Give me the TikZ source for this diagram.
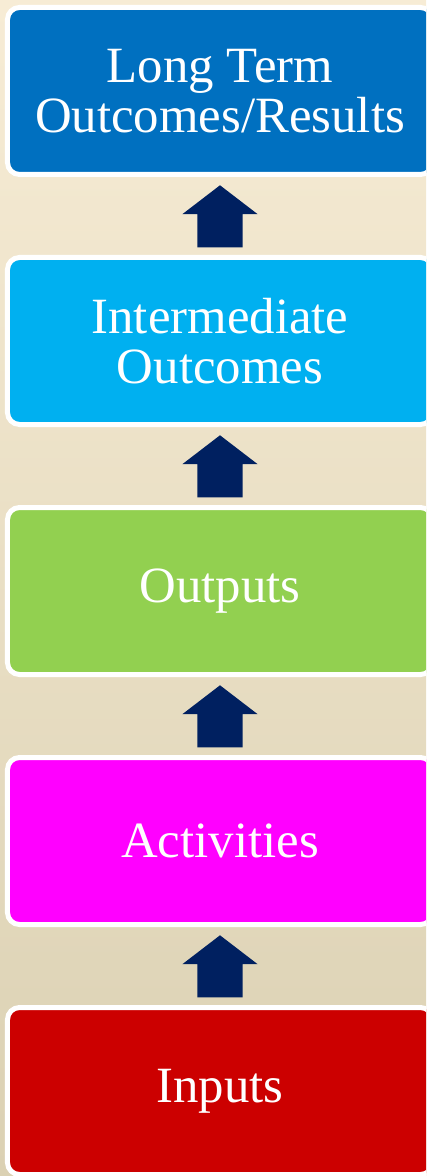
\documentclass[tikz,border=0pt]{standalone}
\usepackage{fontspec}
\setmainfont{Liberation Serif}
\usetikzlibrary{positioning,calc,shapes.arrows}

\definecolor{bgtop}{HTML}{F7ECD5}
\definecolor{bgbottom}{HTML}{DBD1B3}
\definecolor{longc}{HTML}{0070C0}
\definecolor{interc}{HTML}{00B0F0}
\definecolor{outputc}{HTML}{92D050}
\definecolor{activc}{HTML}{FF00FF}
\definecolor{inputc}{HTML}{CC0000}
\definecolor{arrowc}{HTML}{002060}

\tikzset{
	stage/.style={rectangle, rounded corners=12bp, draw=white, line width=5bp,
		outer sep=0pt, minimum width=425bp, minimum height=167bp,
		text=white, align=center, font=\fontsize{51}{50}\selectfont},
	uparrow/.style={single arrow, fill=arrowc, draw=none, rotate=90,
		inner xsep=0pt, inner ysep=22.5bp, minimum height=62bp,
		single arrow head extend=15bp, single arrow tip angle=105}
}

\begin{document}
\begin{tikzpicture}[x=1bp, y=-1bp]
	
	\useasboundingbox (0,0) rectangle (426,1176);
	\clip (0,0) rectangle (426,1176);
	\shade [top color=bgtop, bottom color=bgbottom] (0,0) rectangle (426,1176);
	
	% stages, from the bottom up
	\node [stage, fill=inputc] (inputs) at (220,1091) {Inputs};
	\node [stage, fill=activc, above=83bp of inputs] (activities) {Activities};
	\node [stage, fill=outputc, above=83bp of activities] (outputs) {Outputs};
	\node [stage, fill=interc, above=83bp of outputs] (inter) {Intermediate\\Outcomes};
	\node [stage, fill=longc, above=83bp of inter] (longterm) {Long Term\\Outcomes/Results};
	
	% block arrows between the stages
	\node [uparrow] (a1) at ($(inputs.north)!0.5!(activities.south)+(0,9)$) {};
	\node [uparrow] (a2) at ($(activities.north)!0.5!(outputs.south)+(0,9)$) {};
	\node [uparrow] (a3) at ($(outputs.north)!0.5!(inter.south)+(0,9)$) {};
	\node [uparrow] (a4) at ($(inter.north)!0.5!(longterm.south)+(0,9)$) {};
	
\end{tikzpicture}
\end{document}
